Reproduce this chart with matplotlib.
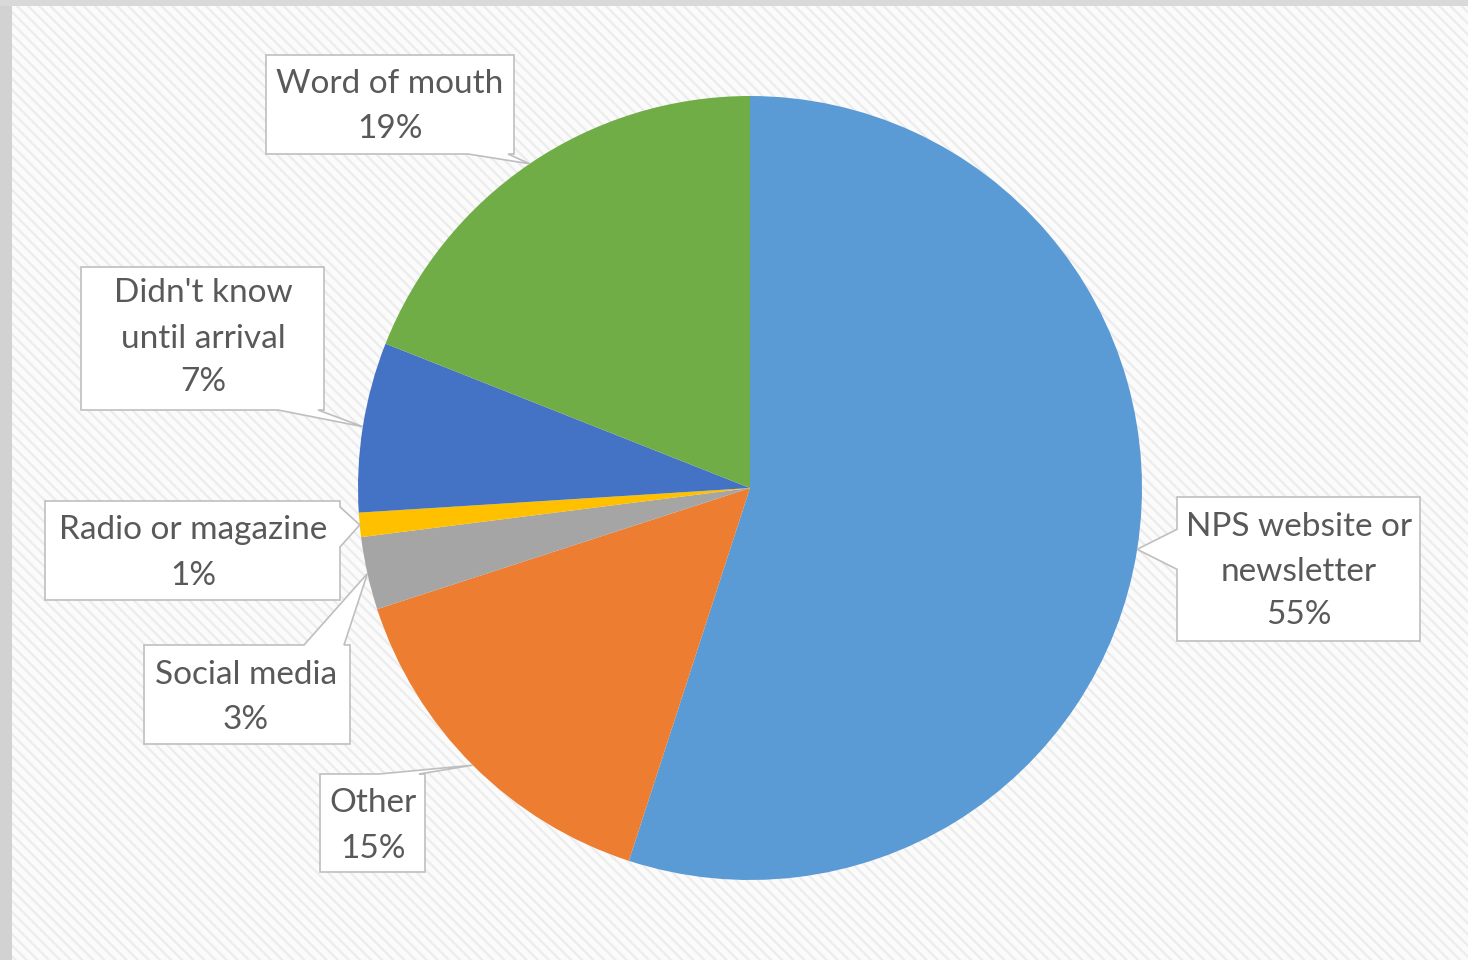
import matplotlib
matplotlib.use("Agg")
import matplotlib.pyplot as plt
from matplotlib.patches import Rectangle, Polygon
import numpy as np

# Survey: how visitors heard about the program
categories = ["NPS website or\nnewsletter", "Other", "Social media",
              "Radio or magazine", "Didn't know\nuntil arrival", "Word of mouth"]
values = [55, 15, 3, 1, 7, 19]
colors = ["#5B9BD5", "#ED7D31", "#A5A5A5", "#FFC000", "#4472C4", "#70AD47"]

W, H = 1468, 960
plt.rcParams["font.family"] = ["Lato", "DejaVu Sans"]
plt.rcParams["hatch.linewidth"] = 1.6
plt.rcParams["hatch.color"] = "#ececec"

fig = plt.figure(figsize=(W / 100, H / 100), dpi=100)
fig.patch.set_facecolor("#fbfbfb")
ax = fig.add_axes([0, 0, 1, 1])


def Y(py):
    return H - py


# frame and textured background
ax.add_patch(Rectangle((12, 0), W - 12, Y(6), facecolor="#fbfbfb",
                       edgecolor="#ececec", hatch="\\\\\\", linewidth=0, zorder=0))
ax.add_patch(Rectangle((0, 0), 12, H, facecolor="#d2d2d2", linewidth=0, zorder=1))
ax.add_patch(Rectangle((0, Y(6)), W, 6, facecolor="#d9d9d9", linewidth=0, zorder=1))

cx, cy, r = 750, Y(488), 392
wedges, _ = ax.pie(values, colors=colors, startangle=90, counterclock=False,
                   center=(cx, cy), radius=r, wedgeprops=dict(linewidth=0))
for w in wedges:
    w.set_zorder(3)

# callout boxes (pixel rectangles x0, y0, x1, y1) and text line centres
boxes = {
    0: (1177, 497, 1420, 641, 1299, [527, 572, 615]),
    1: (320, 774, 425, 872, 373, [803, 849]),
    2: (144, 645, 350, 744, 246, [675, 720]),
    3: (45, 501, 340, 600, 193, [530, 576]),
    4: (81, 267, 324, 410, 203, [293, 339, 382]),
    5: (266, 55, 514, 154, 390, [84, 129]),
}


def callout(x0, y0, x1, y1, tx, ty, base=40, margin=6):
    # box outline in pixel space with a wedge pointing at (tx, ty)
    if y0 <= ty <= y1:
        side = "left" if tx < x0 else "right"
    else:
        side = "top" if ty < y0 else "bottom"
    if side in ("top", "bottom"):
        c = np.clip(tx, x0 + base / 2 + margin, x1 - base / 2 - margin)
    else:
        c = np.clip(ty, y0 + base / 2 + margin, y1 - base / 2 - margin)
    a, b = c - base / 2, c + base / 2
    pts = [(x0, y0)]
    if side == "top":
        pts += [(a, y0), (tx, ty), (b, y0)]
    pts += [(x1, y0)]
    if side == "right":
        pts += [(x1, a), (tx, ty), (x1, b)]
    pts += [(x1, y1)]
    if side == "bottom":
        pts += [(b, y1), (tx, ty), (a, y1)]
    pts += [(x0, y1)]
    if side == "left":
        pts += [(x0, b), (tx, ty), (x0, a)]
    return [(px, Y(py)) for px, py in pts]


for i, (w, cat, v) in enumerate(zip(wedges, categories, values)):
    x0, y0, x1, y1, tcx, lines_y = boxes[i]
    mid = np.deg2rad((w.theta1 + w.theta2) / 2)
    tx = cx + r * np.cos(mid)
    ty = H - (cy + r * np.sin(mid))
    ax.add_patch(Polygon(callout(x0, y0, x1, y1, tx, ty), closed=True,
                         facecolor="white", edgecolor="#bfbfbf",
                         linewidth=1.2, zorder=4))
    lines = cat.split("\n") + [f"{v}%"]
    for txt, ly in zip(lines, lines_y):
        ax.text(tcx, Y(ly), txt, ha="center", va="center", fontsize=24,
                color="#595959", zorder=5)

ax.set_xlim(0, W)
ax.set_ylim(0, H)
ax.set_aspect("equal")
ax.axis("off")
fig.savefig("out.png", dpi=100, facecolor=fig.get_facecolor())
